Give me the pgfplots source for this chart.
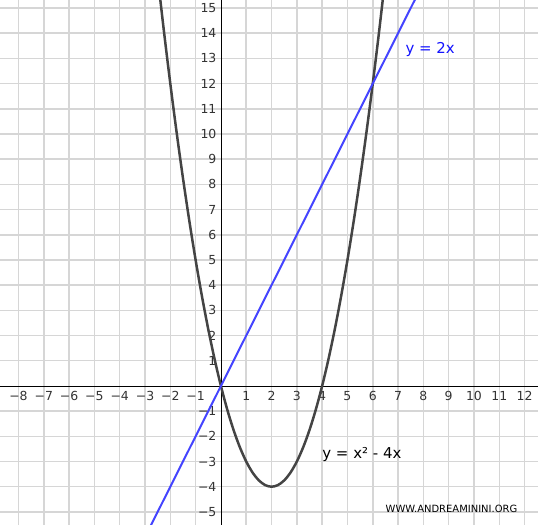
\documentclass[border=0pt]{standalone}
\usepackage{pgfplots}
\pgfplotsset{compat=1.18}
\usepackage{fontspec}
\setmainfont{DejaVu Sans}
\definecolor{majgrid}{RGB}{214,214,214}
\definecolor{mingrid}{RGB}{236,236,236}
\definecolor{parab}{RGB}{68,68,68}
\definecolor{retta}{RGB}{68,68,255}
\definecolor{lab}{RGB}{20,20,255}
\begin{document}
\begin{tikzpicture}
\begin{axis}[
  scale only axis,
  width=538bp, height=525bp,
  xmin=-8.73, xmax=12.53,
  ymin=-5.52, ymax=15.32,
  axis lines=middle,
  axis line style={-, black, line width=0.8bp},
  xtick={-8,-7,-6,-5,-4,-3,-2,-1,1,2,3,4,5,6,7,8,9,10,11,12},
  xticklabels={−8,−7,−6,−5,−4,−3,−2,−1,1,2,3,4,5,6,7,8,9,10,11,12},
  ytick={-5,-4,-3,-2,-1,1,2,3,4,5,6,7,8,9,10,11,12,13,14,15},
  yticklabels={−5,−4,−3,−2,−1,1,2,3,4,5,6,7,8,9,10,11,12,13,14,15},
  minor tick num=4,
  major tick length=0pt, minor tick length=0pt,
  grid=both,
  major grid style={majgrid, line width=1.5bp},
  minor grid style={mingrid, line width=0.7bp},
  tick label style={font=\fontsize{12.5}{14}\selectfont, text=black!80},
  xticklabel style={yshift=-2bp},
  yticklabel style={xshift=-1bp},
  clip=true,
]
\addplot[parab, line width=2.5bp, smooth] coordinates {
  (-2.5,16.25) (-2.25,14.0625) (-2,12) (-1.75,10.0625) (-1.5,8.25)
  (-1.25,6.5625) (-1,5) (-0.75,3.5625) (-0.5,2.25) (-0.25,1.0625)
  (0,0) (0.25,-0.9375) (0.5,-1.75) (0.75,-2.4375) (1,-3)
  (1.25,-3.4375) (1.5,-3.75) (1.75,-3.9375) (2,-4) (2.25,-3.9375)
  (2.5,-3.75) (2.75,-3.4375) (3,-3) (3.25,-2.4375) (3.5,-1.75)
  (3.75,-0.9375) (4,0) (4.25,1.0625) (4.5,2.25) (4.75,3.5625)
  (5,5) (5.25,6.5625) (5.5,8.25) (5.75,10.0625) (6,12)
  (6.25,14.0625) (6.5,16.25)
};
\addplot[retta, line width=2bp] coordinates {(-3,-6) (8,16)};
\node[text=lab, font=\fontsize{15}{17}\selectfont] at (axis cs:8.27,13.35) {y = 2x};
\node[text=black, font=\fontsize{15}{17}\selectfont] at (axis cs:5.57,-2.74) {y = x² - 4x};
\node[text=black, font=\fontsize{10}{12}\selectfont] at (axis cs:9.11,-4.88) {WWW.ANDREAMININI.ORG};
\end{axis}
\pgfresetboundingbox
\useasboundingbox (current axis.south west) rectangle (current axis.north east);
\end{tikzpicture}
\end{document}
